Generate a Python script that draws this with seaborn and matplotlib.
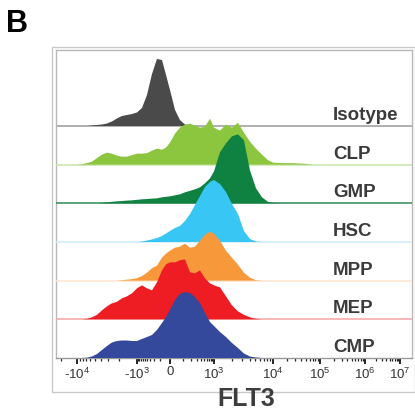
import numpy as np
import pandas as pd
import seaborn as sns
import matplotlib.pyplot as plt
from matplotlib.patches import Rectangle

sns.set_theme(style="white")
plt.rcParams["font.family"] = ["Liberation Sans", "DejaVu Sans"]
plt.rcParams["mathtext.fontset"] = "custom"
plt.rcParams["mathtext.rm"] = "Liberation Sans"

# FLT3 fluorescence grid (shared by every histogram)
flt3 = [-19400, -15600, -12500, -10000, -8250, -6820, -5630, -4640, -3840, -3160,
        -2620, -2160, -1780, -1470, -1210, -1000, -633, -398, -247, -148,
        -79, -37, 0, 35, 73, 121, 183, 265, 380, 538,
        760, 1000, 1264, 1597, 2018, 2550, 3220, 4070, 5150, 6510,
        8220, 10000, 16300, 26600, 43500, 71000]

# histogram heights (scaled counts) per population
isotype = [0, 0, 0, 0, 0, 0, 0.5, 1, 1.5, 2.5, 4.5, 7.5, 10, 11, 12, 13.5, 18, 31, 52, 67,
           66, 51, 36, 16, 6, 1.5, 0, 0, 0, 0, 0, 0, 0, 0, 0, 0, 0, 0, 0, 0,
           0, 0, 0, 0, 0, 0]
clp = [0, 0, 0, 0, 0.5, 1.5, 3, 6.5, 10, 12, 11, 9, 8, 8, 9.5, 11, 11, 11.5, 14, 16,
       15, 17, 22, 31, 37, 40, 41, 39, 37, 38, 46, 37, 34, 40, 37, 42, 32, 23, 16, 10,
       4.5, 2, 1.5, 1.5, 1, 0]
gmp = [0, 0, 0, 0, 0, 0, 0, 0, 0.3, 1, 1.5, 2, 2.3, 2.7, 3, 3.5, 4, 4.3, 4.7, 5,
       6, 6.5, 7, 8, 9, 11, 12.5, 14, 16, 20, 25, 32, 51, 60, 67, 69, 63, 33, 15, 6,
       1.5, 0.5, 0, 0, 0, 0]
hsc = [0, 0, 0, 0, 0, 0, 0, 0, 0, 0, 0, 0, 0, 0, 0, 0, 0.5, 1.5, 2.5, 4,
       6, 8.5, 11, 14, 16, 21, 28, 37, 46, 55, 60, 62, 58, 50, 38, 28, 11, 3, 0.5, 0,
       0, 0, 0, 0, 0, 0]
mpp = [0, 0, 0, 0, 0, 0, 0, 0, 0, 0, 0, 0, 0.5, 1, 1.5, 2.5, 4.5, 8, 12.5, 15,
       23, 27, 30, 33, 34, 37, 33, 34, 40, 46, 49, 47, 40, 30, 23, 16, 8, 3, 0.5, 0,
       0, 0, 0, 0, 0, 0]
mep = [0, 0, 0, 0, 0, 0.5, 2, 4.5, 9, 13, 16, 17.5, 21, 23, 26, 31, 34, 31, 29, 37,
       49, 55, 57, 57, 59, 60, 47, 46, 49, 41, 36, 34, 32, 23, 14, 8, 4.5, 2, 0.5, 0,
       0, 0, 0, 0, 0, 0]
cmp_ = [0, 0, 0, 0, 0, 0.3, 1.5, 4, 8, 12, 15.5, 17, 17.5, 17.5, 17, 17, 19, 21, 23, 28,
        35, 41, 48, 58, 64, 66, 65, 61, 55, 45, 36, 32, 26, 21, 15, 10, 4.5, 1.5, 0.5, 0,
        0, 0, 0, 0, 0, 0]

populations = ["Isotype", "CLP", "GMP", "HSC", "MPP", "MEP", "CMP"]
heights = [isotype, clp, gmp, hsc, mpp, mep, cmp_]
fill_colors = ["#4a4a4a", "#8cc63f", "#0f8140", "#38c6f4", "#f7993b", "#ee1d24", "#34499b"]
base_colors = ["#9a9a9a", "#c8e4a6", "#2e8b57", "#cdeefb", "#fde4cf", "#f4a3a3", "#b0b0b0"]

tick_values = [-1e4, -1e3, 0, 1e3, 1e4, 1e5, 1e6, 1e7]
tick_labels = ["-10$^{4}$", "-10$^{3}$", "0", "10$^{3}$", "10$^{4}$",
               "10$^{5}$", "10$^{6}$", "10$^{7}$"]

# biexponential-like display scale
knot_vals = np.array([-1e5, -1e4, -1e3, 0, 1e3, 1e4, 1e5, 1e6, 1e7, 1e8])
knot_pos = np.array([25, 77, 137, 170, 214, 273, 320, 365, 400, 437], dtype=float)
knot_asinh = np.arcsinh(knot_vals / 100)


def forward(x):
    return np.interp(np.arcsinh(np.asarray(x, dtype=float) / 100), knot_asinh, knot_pos)


def inverse(p):
    return 100 * np.sinh(np.interp(np.asarray(p, dtype=float), knot_pos, knot_asinh))


row_px = 38.67
n = len(populations)
rows = []
for i, (pop, h) in enumerate(zip(populations, heights)):
    for x, v in zip(flt3, h):
        rows.append({"population": pop, "flt3": x, "offset": n - 1 - i,
                     "y": n - 1 - i + v / row_px})
df = pd.DataFrame(rows)

fig = plt.figure(figsize=(4.15, 4.16), dpi=100)
ax = fig.add_axes([56 / 415, 58 / 416, 356 / 415, 308 / 416])
ax.set_xscale("function", functions=(forward, inverse))

for i, pop in enumerate(populations):
    sub = df[df["population"] == pop]
    off = n - 1 - i
    z = 2 + 3 * i
    if i < n - 1:
        ax.axhline(off, color=base_colors[i], lw=1.1, zorder=z)
    ax.fill_between(sub["flt3"].values, off, sub["y"].values, facecolor=fill_colors[i],
                    edgecolor="none", linewidth=0, zorder=z + 1)
    ax.text(0.778, off + 0.155, pop, transform=ax.get_yaxis_transform(),
            fontsize=13.5, fontweight="bold", color="#3b3b3b", va="baseline",
            ha="left", zorder=40)

ax.set_xlim(-25300, 2.1e7)
ax.set_ylim(0, 7.965)
ax.set_yticks([])
ax.set_xticks(tick_values)
ax.set_xticklabels(tick_labels)

minor = []
for d in [100, 1000, 10000, 1e5, 1e6]:
    for m in range(2, 10):
        minor.append(m * d)
        if m * d < 2.5e4:
            minor.append(-m * d)
minor += [100, -100]
ax.set_xticks(minor, minor=True)
ax.tick_params(axis="x", which="major", length=4.5, width=1.3, color="#111111",
               direction="out", labelsize=9.5, labelcolor="#333333", pad=1.5, bottom=True)
ax.tick_params(axis="x", which="minor", length=2.5, width=0.9, color="#222222",
               direction="out", bottom=True)
ax.set_xlabel("")
ax.set_ylabel("")
for s in ax.spines.values():
    s.set_color("#b8b8b8")
    s.set_linewidth(1)
ax.spines["bottom"].set_color("#999999")

fig.add_artist(Rectangle((52 / 415, 24 / 416), 362.5 / 415, 345 / 416,
                         transform=fig.transFigure, fill=False,
                         edgecolor="#c8c8c8", lw=1))
fig.text(246 / 415, 1 - 399 / 416, "FLT3", ha="center", va="center",
         fontsize=18, fontweight="bold", color="#3d3d3d")
fig.text(6 / 415, 1 - 9 / 416, "B", ha="left", va="top",
         fontsize=22, fontweight="bold", color="black")

fig.savefig("out.png", dpi=100)
